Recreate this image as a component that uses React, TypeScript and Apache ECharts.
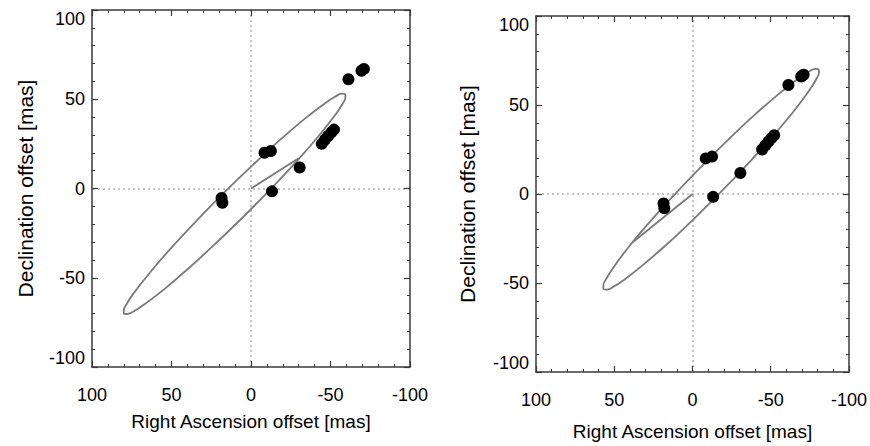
import React, { useEffect, useRef } from "react";
import * as echarts from "echarts";

// Observed positions (mas): Right Ascension offset, Declination offset
const raObs = [-69.5, -71.0, -61.3, -44.5, -46.5, -48.5, -50.5, -52.2, -8.5, -12.5, -30.6, -13.2, 18.5, 18.0];
const decObs = [66.0, 67.0, 61.2, 25.0, 27.3, 29.4, 31.4, 33.0, 20.0, 21.0, 11.8, -1.6, -5.3, -8.0];

// Orbit traced in the left panel
const orbitLeftRA = [-59.3, -59.4, -57.4, -53.4, -43.7, -30.4, -14.3, 3.5, 21.8, 39.2, 54.7, 67.2, 73.4, 77.7, 79.9, 80.0, 78.0, 74.0, 64.3, 51.0, 34.9, 17.1, -1.2, -18.6, -34.1, -46.6, -52.8, -57.1, -59.3];
const orbitLeftDec = [53.0, 51.0, 47.2, 41.7, 30.7, 16.9, 1.5, -14.7, -30.4, -44.7, -56.5, -65.0, -68.6, -70.3, -70.2, -68.2, -64.4, -58.9, -47.9, -34.1, -18.7, -2.5, 13.2, 27.5, 39.3, 47.8, 51.4, 53.1, 53.0];
const nodeLeftRA = [0, -30];
const nodeLeftDec = [0, 17];

// Orbit traced in the right panel
const orbitRightRA = [-80.6, -80.8, -78.9, -75.0, -65.6, -52.5, -36.7, -19.1, -1.1, 16.2, 31.6, 44.0, 50.2, 54.5, 56.8, 57.0, 55.1, 51.2, 41.8, 28.7, 12.9, -4.7, -22.7, -40.0, -55.4, -67.8, -74.0, -78.3, -80.6];
const orbitRightDec = [70.1, 68.1, 64.2, 58.7, 47.5, 33.7, 18.2, 2.0, -13.8, -28.1, -39.8, -48.4, -51.9, -53.7, -53.5, -51.5, -47.6, -42.1, -30.9, -17.1, -1.6, 14.6, 30.4, 44.7, 56.4, 65.0, 68.5, 70.3, 70.1];
const nodeRightRA = [0, 38];
const nodeRightDec = [0, -27];

const axisMin = -100;
const axisMax = 100;
const axisStep = 50;
const xTitle = "Right Ascension offset [mas]";
const yTitle = "Declination offset [mas]";

const FONT = "'Liberation Sans', Arial, Helvetica, sans-serif";
const AXIS_COLOR = "#3a3a3a";

const zip = (a: number[], b: number[]) => a.map((v, i) => [v, b[i]]);

function App() {
  const ref = useRef<HTMLDivElement>(null);

  useEffect(() => {
    if (!ref.current) return;
    const chart = echarts.init(ref.current, null, { renderer: "svg" });

    const grids = [
      { left: 92, top: 10, width: 318, height: 357 },
      { left: 536, top: 16, width: 316, height: 356 },
    ];
    const xNameGaps = [45, 50];
    const yNameGaps = [56, 58];

    const common = {
      min: axisMin,
      max: axisMax,
      interval: axisStep,
      axisLine: { show: true, onZero: false, lineStyle: { color: AXIS_COLOR, width: 1.5 } },
      axisTick: { show: true, inside: true, length: 6, lineStyle: { color: AXIS_COLOR, width: 1.2 } },
      minorTick: { show: true, splitNumber: 5, length: 3, lineStyle: { color: AXIS_COLOR, width: 1 } },
      splitLine: { show: false },
      minorSplitLine: { show: false },
    };

    const xAxes: any[] = [];
    const yAxes: any[] = [];
    grids.forEach((_, g) => {
      xAxes.push({
        ...common,
        type: "value",
        gridIndex: g,
        inverse: true,
        position: "bottom",
        name: xTitle,
        nameLocation: "middle",
        nameGap: xNameGaps[g],
        nameTextStyle: { fontSize: 19, fontFamily: FONT, color: "#000" },
        axisLabel: { show: true, margin: 19, fontSize: 18, fontFamily: FONT, color: "#000" },
      });
      xAxes.push({
        ...common,
        type: "value",
        gridIndex: g,
        inverse: true,
        position: "top",
        axisLabel: { show: false },
      });
      yAxes.push({
        ...common,
        type: "value",
        gridIndex: g,
        position: "left",
        name: yTitle,
        nameLocation: "middle",
        nameGap: yNameGaps[g],
        nameTextStyle: { fontSize: 21, fontFamily: FONT, color: "#000" },
        axisLabel: {
          show: true,
          margin: 7,
          fontSize: 18,
          fontFamily: FONT,
          color: "#000",
          verticalAlignMaxLabel: "top",
          verticalAlignMinLabel: "bottom",
        },
      });
      yAxes.push({
        ...common,
        type: "value",
        gridIndex: g,
        position: "right",
        axisLabel: { show: false },
      });
    });

    const panels = [
      { orbit: zip(orbitLeftRA, orbitLeftDec), node: zip(nodeLeftRA, nodeLeftDec) },
      { orbit: zip(orbitRightRA, orbitRightDec), node: zip(nodeRightRA, nodeRightDec) },
    ];

    const series: any[] = [];
    panels.forEach((p, g) => {
      const xi = g * 2;
      const yi = g * 2;
      series.push({
        type: "line",
        xAxisIndex: xi,
        yAxisIndex: yi,
        data: [],
        z: 0,
        silent: true,
        markLine: {
          silent: true,
          z: 0,
          symbol: ["none", "none"],
          label: { show: false },
          lineStyle: { color: "#b0b0b0", type: [2, 3], width: 1.5 },
          data: [{ xAxis: 0 }, { yAxis: 0 }],
        },
      });
      series.push({
        type: "line",
        xAxisIndex: xi,
        yAxisIndex: yi,
        data: p.orbit,
        smooth: 0.4,
        showSymbol: false,
        symbol: "none",
        lineStyle: { color: "#7a7a7a", width: 1.8 },
        silent: true,
        z: 2,
      });
      series.push({
        type: "line",
        xAxisIndex: xi,
        yAxisIndex: yi,
        data: p.node,
        showSymbol: false,
        symbol: "none",
        lineStyle: { color: "#7a7a7a", width: 1.8 },
        silent: true,
        z: 2,
      });
      series.push({
        type: "scatter",
        xAxisIndex: xi,
        yAxisIndex: yi,
        data: zip(raObs, decObs),
        symbol: "circle",
        symbolSize: 12,
        itemStyle: { color: "#000", opacity: 1, borderWidth: 0 },
        z: 5,
      });
    });

    chart.setOption({
      animation: false,
      backgroundColor: "#fff",
      grid: grids,
      xAxis: xAxes,
      yAxis: yAxes,
      series,
    });

    return () => chart.dispose();
  }, []);

  return (
    <div
      ref={ref}
      style={{ position: "fixed", left: 0, top: 0, width: 870, height: 446, background: "#fff" }}
    />
  );
}

export default App;
